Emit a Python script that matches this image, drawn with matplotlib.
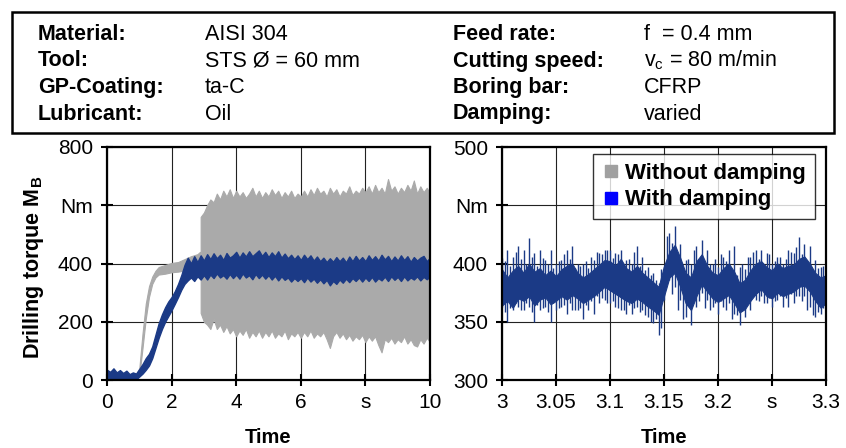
import numpy as np
import matplotlib
matplotlib.use("Agg")
import matplotlib.pyplot as plt
from matplotlib.lines import Line2D
from matplotlib.patches import Rectangle

plt.rcParams['font.family'] = ['Liberation Sans', 'DejaVu Sans']
plt.rcParams['mathtext.fontset'] = 'custom'
plt.rcParams['mathtext.rm'] = 'Liberation Sans'
plt.rcParams['mathtext.bf'] = 'Liberation Sans:bold'

# ---------------- parameter table ----------------
param_labels_left = ["Material:", "Tool:", "GP-Coating:", "Lubricant:"]
param_values_left = ["AISI 304", "STS Ø = 60 mm", "ta-C", "Oil"]
param_labels_right = ["Feed rate:", "Cutting speed:", "Boring bar:", "Damping:"]
param_values_right = ["f  = 0.4 mm", r"v$_\mathrm{c}$ = 80 m/min", "CFRP", "varied"]

# ---------------- left panel data ----------------
# without damping, run-in phase (band low/high)
gray_t_start = [0.0, 0.3, 0.6, 0.9, 1.0, 1.1, 1.2, 1.3, 1.4, 1.5, 1.6, 1.8, 2.0, 2.2, 2.4, 2.6, 2.8, 2.88]
gray_lo_start = [5, 5, 2, 2, 15, 110, 210, 285, 330, 352, 362, 365, 370, 372, 376, 385, 390, 392]
gray_hi_start = [25, 22, 18, 20, 40, 160, 262, 322, 355, 375, 388, 395, 402, 405, 415, 425, 432, 440]

# without damping, chatter phase envelope (every 0.1 s from 2.9 s)
gray_t_band = np.round(np.arange(2.9, 10.001, 0.1), 2)
gray_upper = [560, 575, 600, 620, 610, 640, 620, 650, 630, 655, 625,
              650, 630, 645, 625, 640, 660, 630, 650, 625, 645,
              630, 655, 635, 650, 625, 645, 630, 650, 625, 640,
              630, 650, 630, 655, 635, 660, 640, 650, 630, 660,
              640, 655, 630, 650, 640, 665, 635, 650, 640, 660,
              645, 665, 640, 670, 645, 660, 640, 690, 650, 665,
              640, 660, 645, 670, 650, 685, 640, 665, 645, 660, 640]
gray_lower = [230, 200, 190, 175, 210, 175, 190, 165, 185, 160, 175,
              150, 170, 155, 175, 145, 165, 150, 170, 145, 165,
              150, 170, 145, 160, 150, 170, 140, 160, 150, 165,
              145, 165, 150, 170, 145, 160, 150, 165, 140, 110,
              150, 165, 145, 160, 140, 155, 135, 150, 140, 155,
              130, 150, 135, 150, 120, 95, 140, 130, 145, 125,
              140, 130, 150, 125, 140, 120, 115, 140, 125, 145, 130]

# with damping (every 0.1 s from 0 s)
blue_t = np.round(np.arange(0.0, 10.001, 0.1), 2)
blue_upper = [35, 28, 40, 26, 34, 24, 32, 20, 26, 22,
              38, 55, 75, 90, 115, 155, 195, 225, 250, 270,
              285, 305, 330, 360, 395, 420, 400, 425, 405, 428,
              410, 432, 415, 435, 418, 430, 412, 436, 420, 428,
              440, 420, 438, 424, 442, 425, 435, 445, 426, 440,
              422, 438, 425, 442, 420, 434, 418, 430, 415, 428,
              412, 430, 415, 428, 410, 424, 408, 420, 405, 418,
              406, 422, 408, 420, 404, 424, 408, 426, 410, 422,
              408, 428, 412, 425, 410, 430, 414, 426, 408, 424,
              410, 428, 412, 425, 406, 422, 410, 420, 426, 408, 420]
blue_lower = [0, 8, 2, 6, 0, 4, -4, -6, -2, 2,
              12, 22, 35, 50, 75, 110, 145, 175, 200, 220,
              240, 262, 285, 310, 330, 342, 352, 340, 356, 345,
              360, 345, 362, 350, 366, 352, 360, 348, 364, 350,
              362, 348, 366, 352, 360, 346, 364, 350, 362, 348,
              360, 345, 358, 342, 356, 344, 352, 338, 350, 340,
              350, 336, 352, 338, 348, 334, 346, 332, 344, 325,
              340, 330, 345, 334, 348, 336, 350, 340, 352, 338,
              352, 340, 354, 338, 350, 342, 355, 340, 356, 344,
              354, 340, 356, 342, 352, 345, 356, 342, 354, 346, 355]

# ---------------- right panel data (with damping, 3.0-3.3 s) ----------------
core_t = np.round(np.arange(3.0, 3.3001, 0.005), 4)
core_hi = [395, 388, 394, 398, 392, 400, 393, 396, 390, 394,
           389, 395, 398, 400, 392, 388, 391, 395, 399, 403,
           402, 398, 404, 396, 393, 398, 392, 388, 384, 380,
           398, 410, 416, 405, 392, 388, 402, 408, 398, 392,
           390, 396, 400, 393, 383, 386, 394, 400, 402, 397,
           394, 400, 396, 398, 399, 404, 406, 400, 392, 388, 390]
core_lo = [364, 368, 362, 370, 368, 372, 364, 369, 371, 365,
           368, 372, 369, 373, 370, 366, 369, 372, 376, 380,
           377, 374, 371, 368, 366, 370, 367, 363, 360, 356,
           372, 388, 392, 380, 366, 360, 372, 382, 376, 370,
           367, 370, 373, 366, 358, 361, 368, 374, 378, 372,
           370, 375, 372, 374, 376, 380, 381, 376, 368, 362, 366]

spike_t = np.round(np.arange(3.0, 3.3001, 0.005), 4)
spike_hi = [405, 412, 406, 415, 412, 422, 409, 412, 403, 412, 400,
            403, 412, 415, 400, 400, 396, 403, 409, 412, 412,
            409, 412, 403, 400, 415, 406, 397, 392, 383, 397,
            426, 432, 417, 403, 400, 415, 420, 412, 400, 397,
            406, 412, 415, 397, 395, 406, 412, 412, 409, 400,
            406, 400, 412, 409, 423, 417, 415, 403, 397, 392]
spike_lo = [363, 350, 360, 363, 360, 363, 350, 360, 363, 350, 360,
            363, 357, 360, 360, 352, 360, 357, 366, 369, 366,
            363, 360, 357, 357, 363, 360, 354, 349, 339, 369,
            386, 380, 369, 354, 347, 363, 375, 369, 363, 357,
            363, 366, 357, 347, 354, 360, 369, 372, 366, 363,
            369, 363, 363, 366, 372, 372, 363, 354, 357, 360]

spike2_t = np.round(np.arange(3.0025, 3.3, 0.005), 4)
spike2_hi = [402, 398, 410, 404, 400, 406, 398, 405, 400, 396,
             402, 408, 404, 396, 398, 402, 406, 410, 408, 412,
             405, 408, 400, 404, 410, 398, 394, 390, 386, 395,
             424, 418, 406, 396, 404, 412, 404, 398, 400, 404,
             408, 402, 392, 390, 400, 406, 410, 404, 398, 408,
             402, 406, 404, 410, 414, 408, 398, 394, 396, 398]
spike2_lo = [358, 362, 366, 360, 366, 358, 364, 362, 358, 366,
             362, 364, 366, 360, 362, 364, 368, 372, 370, 366,
             368, 362, 360, 364, 362, 358, 356, 350, 352, 345,
             384, 374, 360, 352, 366, 374, 368, 362, 360, 366,
             368, 360, 352, 356, 364, 370, 372, 368, 366, 370,
             368, 372, 370, 374, 372, 368, 360, 356, 358, 362]

# ---------------- axis tick labels ----------------
left_xticks = [0, 2, 4, 6, 8, 10]
left_xticklabels = ["0", "2", "4", "6", "s", "10"]
left_yticks = [0, 200, 400, 600, 800]
left_yticklabels = ["0", "200", "400", "Nm", "800"]
right_xticks = [3.0, 3.05, 3.1, 3.15, 3.2, 3.25, 3.3]
right_xticklabels = ["3", "3.05", "3.1", "3.15", "3.2", "s", "3.3"]
right_yticks = [300, 350, 400, 450, 500]
right_yticklabels = ["300", "350", "400", "Nm", "500"]

legend_labels = ["Without damping", "With damping"]

GRAY = "#aaaaaa"
BLUE = "#1b3a86"

W, H = 846, 448
fig = plt.figure(figsize=(W / 100, H / 100), dpi=100)

# table frame
fig.patches.append(Rectangle((12 / W, 1 - 133 / H), 822 / W, 121 / H,
                             transform=fig.transFigure, fill=False,
                             edgecolor="black", linewidth=1.8))
rows_y = [1 - 40 / H, 1 - 66.5 / H, 1 - 93 / H, 1 - 119.5 / H]
cols_x = [38 / W, 205 / W, 453 / W, 644 / W]
FS = 15.5
for i, y in enumerate(rows_y):
    fig.text(cols_x[0], y, param_labels_left[i], fontsize=FS, fontweight="bold", va="baseline")
    fig.text(cols_x[1], y, param_values_left[i], fontsize=FS, va="baseline")
    fig.text(cols_x[2], y, param_labels_right[i], fontsize=FS, fontweight="bold", va="baseline")
    fig.text(cols_x[3], y, param_values_right[i], fontsize=FS, va="baseline")

axL = fig.add_axes([107 / W, 1 - 380 / H, 323 / W, 233 / H])
axR = fig.add_axes([502 / W, 1 - 380 / H, 324 / W, 233 / H])

# left panel
axL.fill_between(gray_t_start, gray_lo_start, gray_hi_start, color=GRAY, lw=0.8, edgecolor=GRAY, zorder=2)
axL.fill_between(gray_t_band, gray_lower, gray_upper, color=GRAY, lw=0.8, edgecolor=GRAY, zorder=2)
axL.fill_between(blue_t, blue_lower, blue_upper, color=BLUE, lw=1.0, edgecolor=BLUE, zorder=3)
axL.set_xlim(0, 10)
axL.set_ylim(0, 800)
axL.set_xticks(left_xticks)
axL.set_xticklabels(left_xticklabels)
axL.set_yticks(left_yticks)
axL.set_yticklabels(left_yticklabels)
axL.set_ylabel(r"Drilling torque M$_\mathbf{B}$", fontsize=15.5, fontweight="bold")
axL.yaxis.set_label_coords((46 - 107) / 323, (380 - 267) / 233)

# right panel
axR.fill_between(core_t, core_lo, core_hi, color=BLUE, lw=0.8, edgecolor=BLUE, zorder=3)
axR.vlines(spike_t, spike_lo, spike_hi, color=BLUE, lw=1.0, zorder=3)
axR.vlines(spike2_t, spike2_lo, spike2_hi, color=BLUE, lw=1.0, zorder=3)
axR.set_xlim(3.0, 3.3)
axR.set_ylim(300, 500)
axR.set_xticks(right_xticks)
axR.set_xticklabels(right_xticklabels)
axR.set_yticks(right_yticks)
axR.set_yticklabels(right_yticklabels)

for ax in (axL, axR):
    ax.set_xlabel("Time", fontsize=14.5, fontweight="bold", va="baseline")
    ax.xaxis.set_label_coords(0.5, (380 - 443) / 233)
    ax.grid(True, color="#222222", linewidth=0.8, zorder=1)
    ax.set_axisbelow(True)
    for s in ax.spines.values():
        s.set_linewidth(1.6)
        s.set_zorder(5)
    ax.tick_params(direction="inout", length=8, width=1.5, labelsize=15)
    ax.tick_params(axis="y", pad=6)
    ax.tick_params(axis="x", pad=5)

handles = [Line2D([], [], ls="none", marker="s", markersize=8, color="#a0a0a0"),
           Line2D([], [], ls="none", marker="s", markersize=8, color="#0000ff")]
leg = axR.legend(handles, legend_labels, loc="upper right", bbox_to_anchor=(0.965, 0.97),
                 borderaxespad=0, frameon=True, fancybox=False, handlelength=0.8,
                 handletextpad=0.25, borderpad=0.4, labelspacing=0.25,
                 prop={"weight": "bold", "size": 16})
leg.get_frame().set_edgecolor("black")
leg.get_frame().set_linewidth(1.0)
leg.set_zorder(10)

fig.savefig("out.png", dpi=100)
